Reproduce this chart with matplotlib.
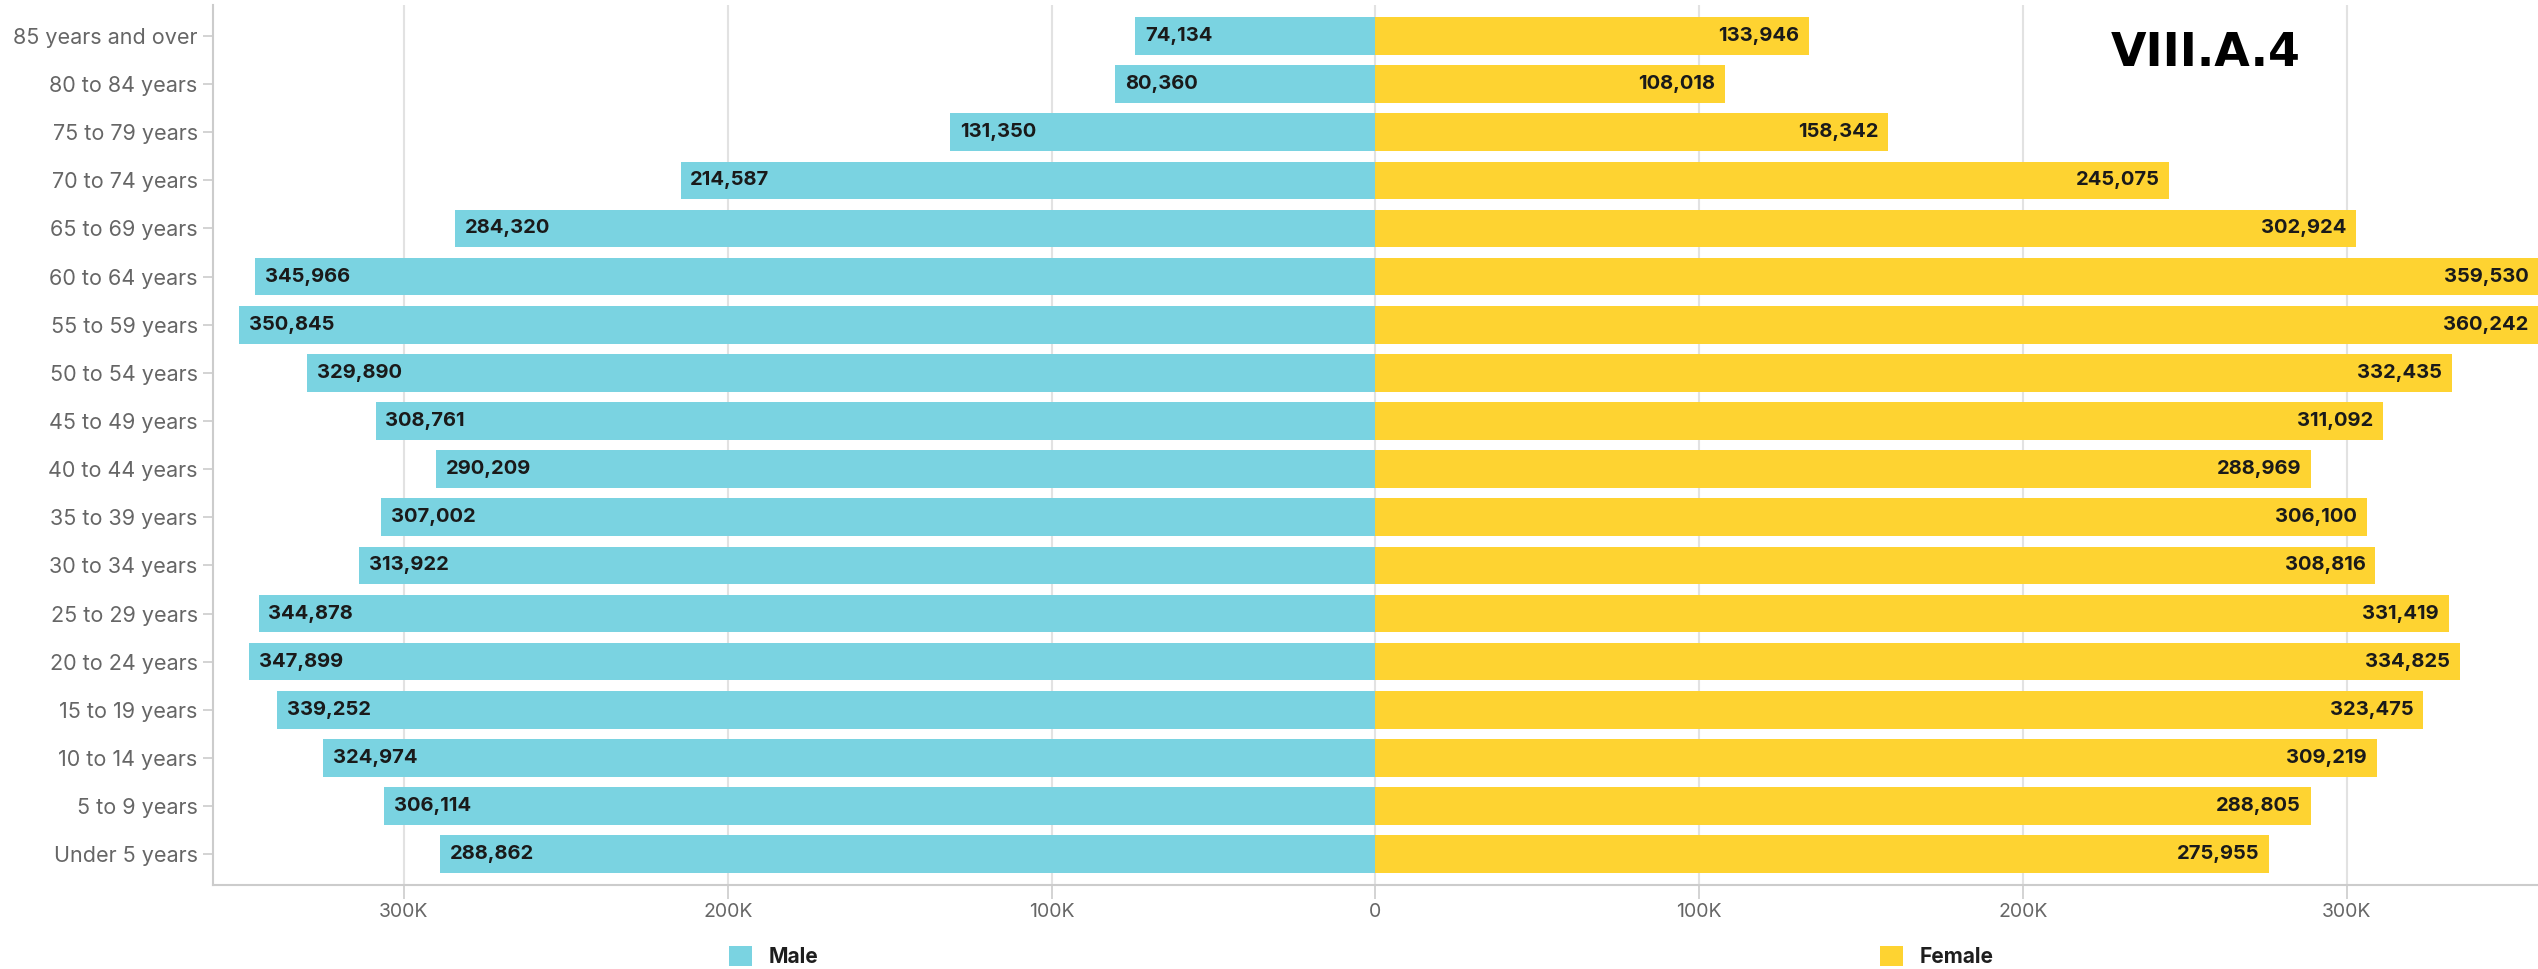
import matplotlib.pyplot as plt
from matplotlib.ticker import FuncFormatter

age_groups = [
    "85 years and over", "80 to 84 years", "75 to 79 years", "70 to 74 years",
    "65 to 69 years", "60 to 64 years", "55 to 59 years", "50 to 54 years",
    "45 to 49 years", "40 to 44 years", "35 to 39 years", "30 to 34 years",
    "25 to 29 years", "20 to 24 years", "15 to 19 years", "10 to 14 years",
    "5 to 9 years", "Under 5 years",
]
male = [
    74134, 80360, 131350, 214587, 284320, 345966, 350845, 329890, 308761,
    290209, 307002, 313922, 344878, 347899, 339252, 324974, 306114, 288862,
]
female = [
    133946, 108018, 158342, 245075, 302924, 359530, 360242, 332435, 311092,
    288969, 306100, 308816, 331419, 334825, 323475, 309219, 288805, 275955,
]
x_ticks = [-300000, -200000, -100000, 0, 100000, 200000, 300000]

MALE_C = "#7ad3e1"
FEMALE_C = "#fed331"
XMAX = 359000

plt.rcParams["font.family"] = ["Inter", "DejaVu Sans"]

fig = plt.figure(figsize=(25.38, 9.69), dpi=100)
ax = fig.add_axes([0.0839, 0.0867, 0.9161, 0.908])

# bottom row first so "Under 5 years" sits at y=0
labels = age_groups[::-1]
m = male[::-1]
f = female[::-1]
ypos = list(range(len(labels)))

bm = ax.barh(ypos, [-v for v in m], height=0.78, color=MALE_C, label="Male")
bf = ax.barh(ypos, f, height=0.78, color=FEMALE_C, label="Female")

# labels sit inside the bar end, kept inside the visible plot area
for y, v in zip(ypos, m):
    ax.annotate(f"{v:,}", (-min(v, XMAX), y), xytext=(7, 0),
                textcoords="offset points", ha="left", va="center",
                fontsize=14.5, fontweight="bold", color="#1a1a1a")
for y, v in zip(ypos, f):
    ax.annotate(f"{v:,}", (min(v, XMAX), y), xytext=(-7, 0),
                textcoords="offset points", ha="right", va="center",
                fontsize=14.5, fontweight="bold", color="#1a1a1a")

ax.set_xlim(-XMAX, XMAX)
ax.set_ylim(-0.64, len(labels) - 0.36)
ax.set_yticks(ypos)
ax.set_yticklabels(labels)
ax.set_xticks(x_ticks)
ax.xaxis.set_major_formatter(
    FuncFormatter(lambda v, p: "0" if v == 0 else f"{abs(v) / 1000:.0f}K"))

ax.tick_params(axis="y", length=7, width=1.2, color="#cccccc", pad=4,
               labelsize=15.5, labelcolor="#666666")
ax.tick_params(axis="x", length=10, width=1.2, color="#cccccc", pad=3,
               labelsize=14, labelcolor="#666666")

ax.xaxis.grid(True, color="#e2e2e2", linewidth=1.5)
ax.set_axisbelow(True)
for side in ["top", "right"]:
    ax.spines[side].set_visible(False)
for side in ["left", "bottom"]:
    ax.spines[side].set_color("#cccccc")
    ax.spines[side].set_linewidth(1.5)

fig.text(0.869, 0.945, "VIII.A.4", fontsize=33, fontweight="heavy",
         family="DejaVu Sans", ha="center", va="center", color="black")

leg_kw = dict(frameon=False, handlelength=1.1, handleheight=1.1,
              handletextpad=0.8, prop={"size": 15, "weight": "bold"},
              loc="center")
l1 = fig.legend(handles=[bm], bbox_to_anchor=(0.305, 0.0125), **leg_kw)
l2 = fig.legend(handles=[bf], bbox_to_anchor=(0.763, 0.0125), **leg_kw)
for leg in (l1, l2):
    for t in leg.get_texts():
        t.set_color("#1e1e1e")

fig.savefig("out.png", dpi=100)
